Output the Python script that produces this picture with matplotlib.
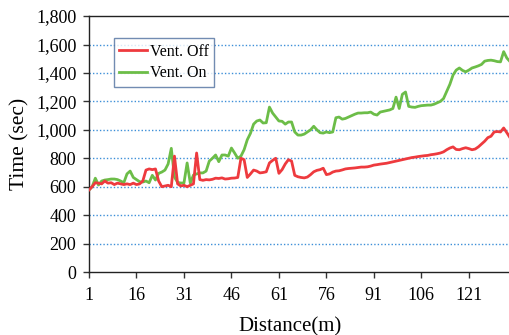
import matplotlib
matplotlib.use('Agg')
import matplotlib.pyplot as plt
from matplotlib.ticker import FuncFormatter, FixedLocator

# Distanza (m) e tempi
distance = list(range(1, 135))

vent_off = [577, 600, 628, 625, 620, 640, 625, 628, 615, 625,
            620, 615, 620, 615, 625, 615, 620, 640, 717, 725,
            720, 725, 640, 600, 605, 610, 600, 815, 620, 605,
            610, 600, 610, 620, 837, 650, 645, 650, 648, 652,
            660, 658, 662, 654, 656, 660, 661, 665, 800, 790,
            665, 690, 717, 710, 697, 700, 705, 767, 785, 800,
            694, 720, 760, 790, 780, 680, 670, 665, 662, 668,
            685, 705, 715, 720, 730, 685, 690, 703, 710, 712,
            718, 725, 728, 730, 732, 735, 738, 738, 740, 745,
            752, 755, 759, 762, 765, 770, 775, 780, 785, 790,
            795, 800, 805, 808, 812, 815, 818, 820, 825, 828,
            832, 837, 845, 860, 872, 880, 862, 860, 868, 874,
            868, 860, 865, 880, 900, 920, 945, 955, 985, 988,
            985, 1013, 980, 945]

vent_on = [577, 600, 660, 612, 640, 647, 650, 654, 654, 650,
           640, 628, 690, 710, 665, 650, 635, 633, 640, 628,
           680, 647, 694, 703, 717, 760, 870, 668, 630, 626,
           626, 767, 626, 682, 690, 697, 697, 710, 780, 800,
           823, 776, 823, 823, 815, 872, 837, 800, 815, 860,
           930, 975, 1040, 1062, 1069, 1048, 1050, 1160, 1118, 1090,
           1062, 1060, 1040, 1055, 1055, 985, 963, 963, 970, 985,
           1000, 1025, 1000, 980, 977, 985, 980, 985, 1085, 1090,
           1075, 1080, 1090, 1100, 1110, 1118, 1118, 1120, 1120, 1125,
           1110, 1104, 1125, 1130, 1135, 1140, 1150, 1230, 1150, 1250,
           1266, 1165, 1160, 1158, 1165, 1170, 1172, 1174, 1174, 1180,
           1190, 1200, 1220, 1270, 1320, 1385, 1420, 1435, 1418, 1408,
           1420, 1435, 1442, 1450, 1460, 1483, 1488, 1490, 1486, 1480,
           1478, 1550, 1505, 1480]

x_ticks = [1, 16, 31, 46, 61, 76, 91, 106, 121]
y_ticks = list(range(0, 1801, 200))

plt.rcParams['font.family'] = ['Liberation Serif', 'DejaVu Serif']

fig = plt.figure(figsize=(5.1, 3.35), dpi=100)
ax = fig.add_axes([0.1745, 0.188, 0.8255, 0.764])

# griglia punteggiata blu
for y in y_ticks[1:-1]:
    ax.axhline(y, color='#3d8fd8', linewidth=1.0, linestyle=(0, (1, 1.5)), zorder=1)

ax.plot(distance, vent_off, color='#ee3a3e', linewidth=2.0, label='Vent. Off', zorder=3)
ax.plot(distance, vent_on, color='#6cbd48', linewidth=2.0, label='Vent. On', zorder=2)

ax.set_xlim(1, 134)
ax.set_ylim(0, 1800)
ax.xaxis.set_major_locator(FixedLocator(x_ticks))
ax.yaxis.set_major_locator(FixedLocator(y_ticks))
ax.yaxis.set_major_formatter(FuncFormatter(lambda v, p: f'{int(v):,}'))
ax.tick_params(axis='both', labelsize=13, length=4, width=1, direction='out', color='#333333')
ax.tick_params(axis='y', pad=5)
ax.tick_params(axis='x', pad=7)

ax.spines['right'].set_visible(False)
for s in ['left', 'bottom', 'top']:
    ax.spines[s].set_linewidth(1.0)
    ax.spines[s].set_color('#222222')

ax.set_xlabel('Distance(m)', fontsize=15)
ax.xaxis.set_label_coords(0.477, -0.175)
ax.set_ylabel('Time (sec)', fontsize=15.5, labelpad=5)

leg = ax.legend(loc='upper left', bbox_to_anchor=(0.059, 0.914), fontsize=11.5,
                frameon=True, fancybox=False, borderpad=0.35, handlelength=1.75,
                handletextpad=0.15, labelspacing=0.35, borderaxespad=0)
leg.get_frame().set_edgecolor('#4f6f9f')
leg.get_frame().set_linewidth(1.0)

fig.savefig('out.png', dpi=100)
plt.close(fig)
